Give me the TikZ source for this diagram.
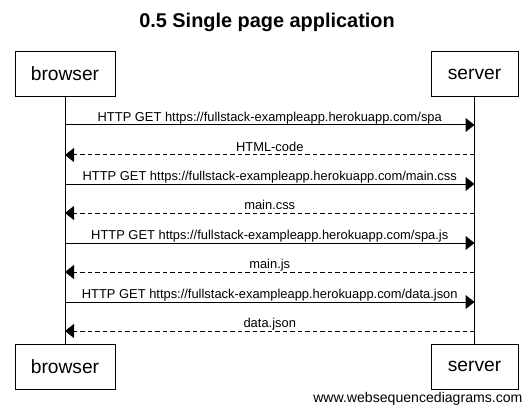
\documentclass[tikz,border=0pt]{standalone}
\usepackage{fontspec}
\setmainfont{Liberation Sans}
\usetikzlibrary{arrows.meta}

\begin{document}
\begin{tikzpicture}[x=1pt,y=-1pt,line width=1pt,
    actor/.style={draw,minimum height=45pt,inner sep=0pt,font=\fontsize{19.2}{22}\selectfont},
    req/.style={-{Triangle[length=9pt,width=14pt]}},
    resp/.style={req,dash pattern=on 4.5pt off 3pt},
    msg/.style={anchor=base,yshift=3.7pt,inner sep=0pt,font=\fontsize{12.9}{15}\selectfont}]
\useasboundingbox (0,0) rectangle (532,414);
    %Titulo
    \node[anchor=base,font=\bfseries\fontsize{19.9}{24}\selectfont] (title) at (267,28) {0.5 Single page application};

    %Actores
    \node[actor,minimum width=100pt] (bt) at (65,74) {browser};
    \node[actor,minimum width=87pt] (st) at (474.5,74) {server};
    \node[actor,minimum width=100pt] (bb) at (65,366.5) {browser};
    \node[actor,minimum width=87pt] (sb) at (474.5,366.5) {server};

    %Lineas de vida
    \draw (bt) -- (bb);
    \draw (st) -- (sb);
    \foreach \y [count=\i] in {125,155,184,213,243,272,302,331}{
        \coordinate (b\i) at (65,\y);
        \coordinate (s\i) at (474.5,\y);
    }

    %Mensajes
    \draw[req] (b1) -- node[msg]{HTTP GET https://fullstack-exampleapp.herokuapp.com/spa} (s1);
    \draw[resp] (s2) -- node[msg]{HTML-code} (b2);
    \draw[req] (b3) -- node[msg]{HTTP GET https://fullstack-exampleapp.herokuapp.com/main.css} (s3);
    \draw[resp] (s4) -- node[msg]{main.css} (b4);
    \draw[req] (b5) -- node[msg]{HTTP GET https://fullstack-exampleapp.herokuapp.com/spa.js} (s5);
    \draw[resp] (s6) -- node[msg]{main.js} (b6);
    \draw[req] (b7) -- node[msg]{HTTP GET https://fullstack-exampleapp.herokuapp.com/data.json} (s7);
    \draw[resp] (s8) -- node[msg]{data.json} (b8);

    \node[anchor=base east,inner sep=0pt,font=\fontsize{14.1}{17}\selectfont] (wsd) at (523,402) {www.websequencediagrams.com};
\end{tikzpicture}
\end{document}
